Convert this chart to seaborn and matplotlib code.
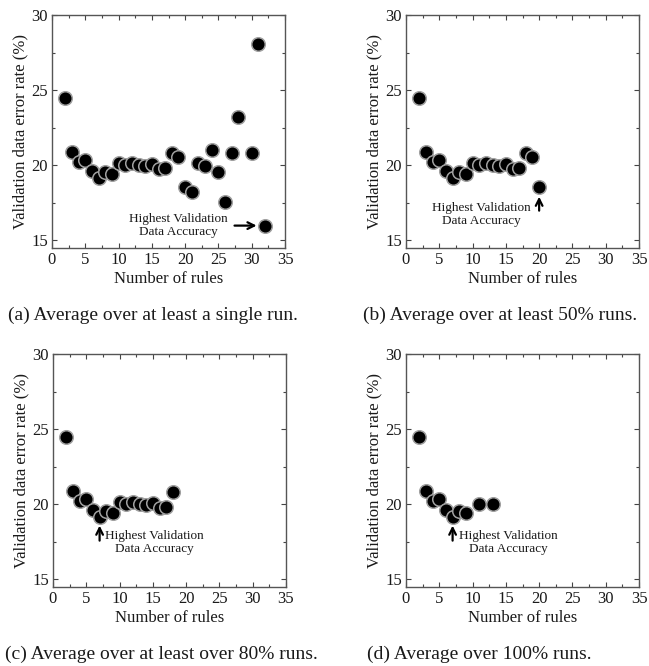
import matplotlib
matplotlib.use("Agg")
import matplotlib.pyplot as plt
from matplotlib.ticker import MultipleLocator
import pandas as pd
import seaborn as sns

# number of rules and validation error rate (%) for each panel
rules_a = [2, 3, 4, 5, 6, 7, 8, 9, 10, 11, 12, 13, 14, 15, 16, 17, 18, 19, 20,
           21, 22, 23, 24, 25, 26, 27, 28, 30, 31, 32]
error_a = [24.45, 20.9, 20.25, 20.35, 19.62, 19.18, 19.58, 19.42, 20.13, 20.02,
           20.13, 20.02, 19.98, 20.09, 19.73, 19.8, 20.8, 20.58, 18.54, 18.25,
           20.13, 19.98, 21.02, 19.58, 17.57, 20.84, 23.23, 20.84, 28.05, 15.99]

rules_b = rules_a[:18] + [20]
error_b = error_a[:18] + [18.58]

rules_c = rules_a[:17]
error_c = error_a[:17]

rules_d = [2, 3, 4, 5, 6, 7, 8, 9, 11, 13]
error_d = [24.45, 20.9, 20.25, 20.35, 19.62, 19.18, 19.58, 19.42, 20.0, 20.0]

captions = ["(a) Average over at least a single run.",
            "(b) Average over at least 50% runs.",
            "(c) Average over at least over 80% runs.",
            "(d) Average over 100% runs."]

note = "Highest Validation\nData Accuracy"

sns.set_style("ticks")
plt.rcParams["font.family"] = ["Liberation Serif", "DejaVu Serif"]
plt.rcParams["text.color"] = "#1a1a1a"
plt.rcParams["axes.labelcolor"] = "#1a1a1a"
plt.rcParams["xtick.color"] = "#444444"
plt.rcParams["ytick.color"] = "#444444"
plt.rcParams["xtick.labelcolor"] = "#1a1a1a"
plt.rcParams["ytick.labelcolor"] = "#1a1a1a"

W, H = 649, 666
fig = plt.figure(figsize=(W / 100, H / 100), dpi=100)


def px_axes(left, top, right, bottom):
    return fig.add_axes([left / W, 1 - bottom / H, (right - left) / W, (bottom - top) / H])


panels = [
    (px_axes(52, 15, 285, 248), rules_a, error_a),
    (px_axes(406, 15, 639, 248), rules_b, error_b),
    (px_axes(53, 354, 286, 587), rules_c, error_c),
    (px_axes(406, 354, 639, 587), rules_d, error_d),
]

for ax, xs, ys in panels:
    df = pd.DataFrame({"rules": xs, "error": ys})
    sns.scatterplot(data=df, x="rules", y="error", ax=ax, s=95, color="black",
                    edgecolor="#a0a0a0", linewidth=1.1, zorder=3)
    ax.set_xlim(0, 35)
    ax.set_ylim(14.5, 30)
    ax.xaxis.set_major_locator(MultipleLocator(5))
    ax.xaxis.set_minor_locator(MultipleLocator(2.5))
    ax.yaxis.set_major_locator(MultipleLocator(5))
    ax.yaxis.set_minor_locator(MultipleLocator(2.5))
    ax.tick_params(which="both", direction="in", top=True, right=True, labelsize=12, pad=3)
    ax.tick_params(which="major", length=3.5, width=0.8)
    ax.tick_params(which="minor", length=2, width=0.8)
    for sp in ax.spines.values():
        sp.set_color("#555555")
        sp.set_linewidth(1.0)
    ax.set_xlabel("Number of rules", fontsize=12, labelpad=2)
    ax.set_ylabel("Validation data error rate (%)", fontsize=12, labelpad=2)

arrow = dict(arrowstyle="->", color="black", lw=1.6, mutation_scale=12)

ax_a = panels[0][0]
ax_a.text(19.0, 15.97, note, ha="center", va="center", fontsize=9.5, linespacing=1.1)
ax_a.annotate("", xy=(31.15, 15.99), xytext=(27.0, 15.99), arrowprops=arrow)

ax_b = panels[1][0]
ax_b.text(11.3, 16.73, note, ha="center", va="center", fontsize=9.5, linespacing=1.1)
ax_b.annotate("", xy=(20, 18.1), xytext=(20, 16.8), arrowprops=arrow)

ax_c = panels[2][0]
ax_c.text(15.3, 17.46, note, ha="center", va="center", fontsize=9.5, linespacing=1.1)
ax_c.annotate("", xy=(7, 18.77), xytext=(7, 17.4), arrowprops=arrow)

ax_d = panels[3][0]
ax_d.text(15.4, 17.46, note, ha="center", va="center", fontsize=9.5, linespacing=1.1)
ax_d.annotate("", xy=(7, 18.77), xytext=(7, 17.4), arrowprops=arrow)

cap_pos = [(8, 315), (363, 315), (5, 654), (367, 654)]
for (cx, cy), cap in zip(cap_pos, captions):
    fig.text(cx / W, 1 - cy / H, cap, ha="left", va="center", fontsize=14)

fig.savefig("out.png", dpi=100)
